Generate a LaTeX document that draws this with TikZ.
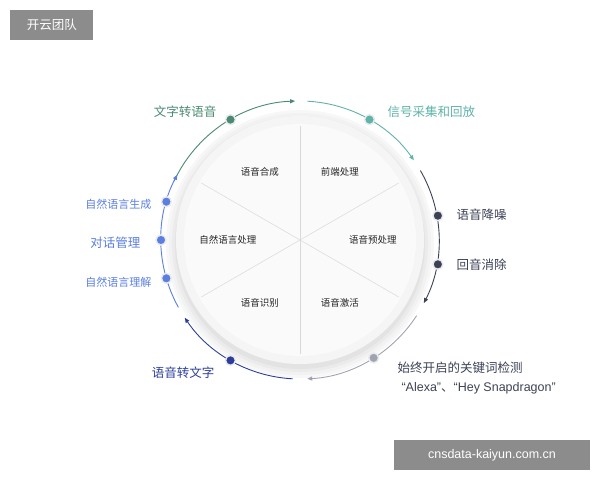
\documentclass[tikz,border=0pt]{standalone}
\usepackage{fontspec}
\setmainfont{Noto Sans CJK SC}
\newfontfamily\latinfont{Liberation Sans}
\newfontfamily\cjkfont{Noto Sans CJK SC}
\usetikzlibrary{arrows.meta}
\definecolor{cgreen}{HTML}{4A8A72}
\definecolor{cteal}{HTML}{5FB3A8}
\definecolor{cdark}{HTML}{3C4255}
\definecolor{cgray}{HTML}{A0A4B0}
\definecolor{cnavy}{HTML}{2C3E9A}
\definecolor{cblue}{HTML}{5B7FE0}
\begin{document}
\begin{tikzpicture}[x=1pt,y=1pt,
  seg/.style={line width=0.9pt,-{Triangle[length=5pt,width=4pt]}},
  dot/.style={circle,inner sep=0pt,minimum size=10pt,draw=white!92!black,line width=1.5pt},
  lab/.style={font=\fontsize{12.5}{14}\selectfont},
  small/.style={font=\fontsize{11}{13}\selectfont},
  inner/.style={font=\fontsize{9.5}{11}\selectfont,text=black!85},
  tag/.style={fill=black!45,text=white,font=\fontsize{12.5}{14}\selectfont,inner sep=0pt}]
\useasboundingbox (-300,-240) rectangle (300,240);
% disk
\foreach \r/\c in {134/black!3,131/black!5,128/black!8,125/black!11}{\fill[\c] (0,-4) circle (\r);}
\fill[black!4] (0,0) circle (124);
\fill[white!98!black] (0,0) circle (116);
\foreach \a in {90,30,150}{\draw[black!15,line width=0.5pt] (\a:114) -- (\a+180:114);}
\node[inner] (n1) at (-40,68) {语音合成};
\node[inner] (n2) at (40,68) {前端处理};
\node[inner] (n3) at (-72,0) {自然语言处理};
\node[inner] (n4) at (73,0) {语音预处理};
\node[inner] (n5) at (-40,-63) {语音识别};
\node[inner] (n6) at (40,-63) {语音激活};
% arcs
\draw[seg,cgreen] (155:139) arc (155:92:139);
\draw[seg,cteal] (87:139) arc (87:35:139);
\draw[seg,cdark] (30:139) arc (30:-27:139);
\draw[seg,cgray] (-33:139) arc (-33:-87:139);
\draw[seg,cnavy] (-93:139) arc (-93:-146:139);
\draw[seg,cblue] (-151:139) arc (-151:-208:139);
% dots
\node[dot,fill=cgreen] (d1) at (120:139) {};
\node[dot,fill=cteal] (d2) at (60:139) {};
\node[dot,fill=cdark] (d3) at (10:140) {};
\node[dot,fill=cdark] (d4) at (-10:140) {};
\node[dot,fill=cgray] (d5) at (-58:139) {};
\node[dot,fill=cnavy] (d6) at (-120:139) {};
\node[dot,fill=cblue] (d7) at (164:139) {};
\node[dot,fill=cblue] (d8) at (180:139) {};
\node[dot,fill=cblue] (d9) at (196:139) {};
% labels
\node[lab,text=cgreen,anchor=east] (l1) at (-80,128) {文字转语音};
\node[lab,text=cteal,anchor=west] (l2) at (84,128) {信号采集和回放};
\node[lab,text=cdark,anchor=west] (l3) at (153,25) {语音降噪};
\node[lab,text=cdark,anchor=west] (l4) at (153,-25) {回音消除};
\node[lab,text=cdark,anchor=west] (l5) at (94,-128) {始终开启的关键词检测};
\node[lab,text=cdark,anchor=west] (l5b) at (98,-148) {\latinfont “Alexa”{\cjkfont 、}“Hey Snapdragon”};
\node[lab,text=cnavy,anchor=east] (l6) at (-82,-133) {语音转文字};
\node[small,text=cblue,anchor=east] (l7) at (-145,36) {自然语言生成};
\node[lab,text=cblue,anchor=east] (l8) at (-156,-3) {对话管理};
\node[small,text=cblue,anchor=east] (l9) at (-145,-42) {自然语言理解};
% tags
\node[tag,minimum width=83pt,minimum height=30pt] (t1) at (-248,215) {开云团队};
\node[tag,minimum width=195pt,minimum height=30pt] (t2) at (192,-215) {\latinfont cnsdata-kaiyun.com.cn};
\end{tikzpicture}
\end{document}
